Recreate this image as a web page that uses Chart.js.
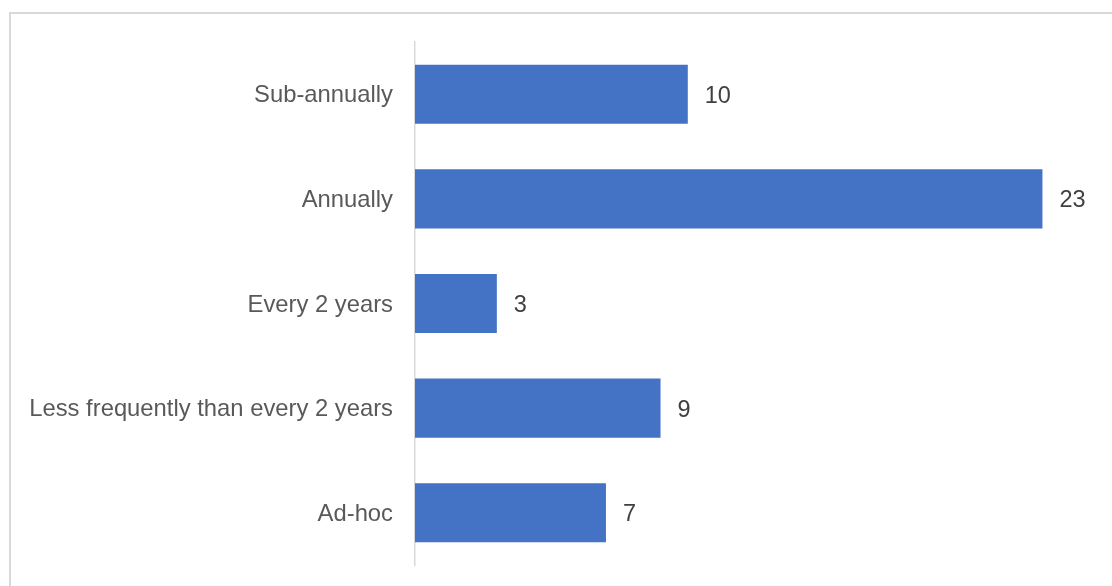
<!DOCTYPE html>
<html>
<head>
<meta charset="utf-8">
<script src="https://cdn.jsdelivr.net/npm/chart.js@4/dist/chart.umd.min.js"></script>
<style>
  html, body { margin: 0; padding: 0; background: #ffffff; }
  #wrap { position: relative; width: 1112px; height: 586px; }
</style>
</head>
<body>
<div id="wrap"><canvas id="chart" width="1112" height="586"></canvas></div>
<script>
// Review frequency responses
const categories = [
  "Sub-annually",
  "Annually",
  "Every 2 years",
  "Less frequently than every 2 years",
  "Ad-hoc"
];
const counts = [10, 23, 3, 9, 7];

const FONT = "'Liberation Sans', Arial, sans-serif";

// Outer frame around the chart
const framePlugin = {
  id: "frame",
  beforeDraw(chart) {
    const ctx = chart.ctx;
    ctx.save();
    ctx.fillStyle = "#ffffff";
    ctx.fillRect(0, 0, chart.width, chart.height);
    ctx.strokeStyle = "#d9d9d9";
    ctx.lineWidth = 2;
    ctx.strokeRect(10, 13, chart.width + 20, chart.height + 20);
    ctx.restore();
  }
};

// Value printed to the right of each bar
const valueLabels = {
  id: "valueLabels",
  afterDatasetsDraw(chart) {
    const ctx = chart.ctx;
    const meta = chart.getDatasetMeta(0);
    ctx.save();
    ctx.font = "23.5px " + FONT;
    ctx.fillStyle = "#404040";
    ctx.textAlign = "left";
    ctx.textBaseline = "middle";
    meta.data.forEach((bar, i) => {
      ctx.fillText(String(chart.data.datasets[0].data[i]), bar.x + 17, bar.y + 2);
    });
    ctx.restore();
  }
};

new Chart(document.getElementById("chart"), {
  type: "bar",
  data: {
    labels: categories,
    datasets: [{
      data: counts,
      backgroundColor: "#4472c4",
      borderWidth: 0,
      barPercentage: 0.565,
      categoryPercentage: 1.0
    }]
  },
  options: {
    indexAxis: "y",
    responsive: false,
    animation: false,
    layout: { padding: { left: 0, right: 15, top: 42, bottom: 21 } },
    plugins: {
      legend: { display: false },
      tooltip: { enabled: false }
    },
    scales: {
      x: {
        display: false,
        min: 0,
        max: 25
      },
      y: {
        afterFit(scale) {
          scale.width = 415;
          scale.paddingTop = 0;
          scale.paddingBottom = 0;
        },
        grid: { display: false, drawTicks: false },
        border: { display: true, color: "#d9d9d9", width: 1.5 },
        ticks: {
          color: "#595959",
          padding: 22,
          labelOffset: 1.5,
          font: { family: FONT, size: 23.8 }
        }
      }
    }
  },
  plugins: [framePlugin, valueLabels]
});
</script>
</body>
</html>
